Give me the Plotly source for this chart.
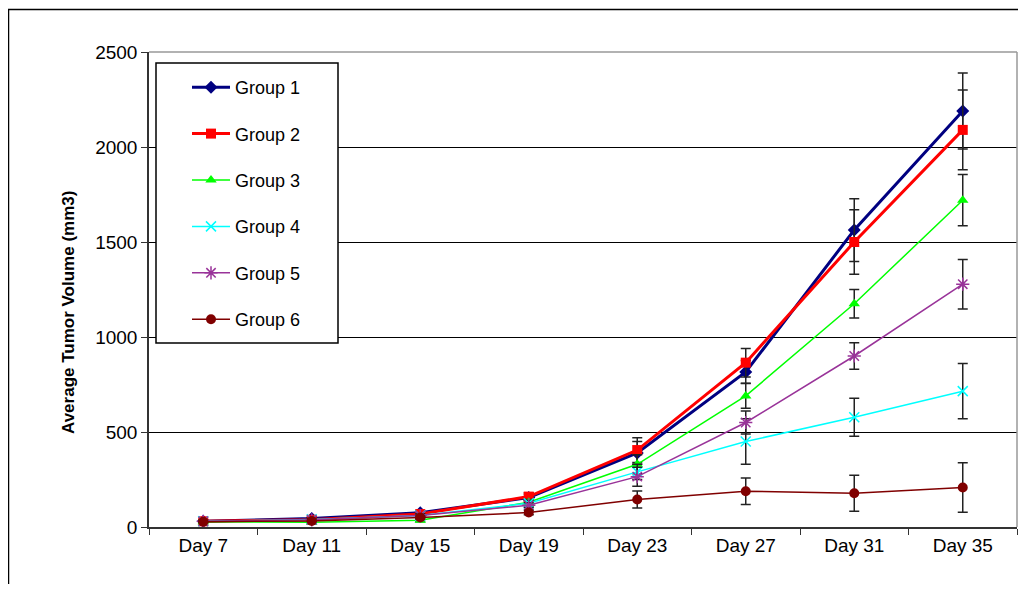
import plotly.graph_objects as go

days = ["Day 7", "Day 11", "Day 15", "Day 19", "Day 23", "Day 27", "Day 31", "Day 35"]
g1 = [30, 45, 75, 155, 390, 816, 1563, 2189]
g2 = [30, 38, 68, 160, 405, 865, 1500, 2090]
g3 = [28, 25, 35, 130, 330, 690, 1175, 1720]
g4 = [30, 40, 60, 125, 290, 450, 578, 715]
g5 = [30, 38, 60, 115, 265, 550, 900, 1278]
g6 = [28, 32, 50, 76, 145, 188, 178, 208]
e1 = [5, 6, 10, 18, 60, 60, 165, 200]
e2 = [5, 6, 10, 20, 65, 75, 170, 210]
e3 = [4, 5, 8, 15, 50, 65, 75, 135]
e4 = [4, 5, 8, 15, 40, 120, 100, 145]
e5 = [4, 5, 8, 12, 50, 60, 70, 130]
e6 = [4, 5, 8, 12, 45, 70, 95, 130]
names = ["Group 1", "Group 2", "Group 3", "Group 4", "Group 5", "Group 6"]

series = [
    (g1, e1, "#000080", "diamond", 10, 3),
    (g2, e2, "#FF0000", "square", 10, 3),
    (g3, e3, "#00FF00", "triangle-up", 10, 1.5),
    (g4, e4, "#00FFFF", "x-thin-open", 10, 1.5),
    (g5, e5, "#993399", "asterisk-open", 11, 1.5),
    (g6, e6, "#800000", "circle", 10, 1.5),
]

fig = go.Figure()
for name, (vals, errs, col, sym, msize, lw) in zip(names, series):
    fig.add_trace(go.Scatter(
        x=days, y=vals, name=name, mode="lines+markers",
        legendgroup=name,
        line=dict(color=col, width=lw),
        marker=dict(color=col, symbol=sym, size=msize,
                    line=dict(color=col, width=1.5 if "open" in sym else 0)),
        error_y=dict(type="data", array=errs, visible=True,
                     color="#222222", thickness=1.5, width=5),
    ))

OFF = 8  # page body margin
W, H = 1026 - 2 * OFF, 592 - 2 * OFF
# screen-space plot area
SL, SR, ST, SB = 149, 1017, 52, 527
L = SL - OFF
T = ST - OFF
R = W - (SR - OFF)
B = H - (SB - OFF)
pw, ph = W - L - R, H - T - B

def px_x(x):
    return (x - OFF - L) / pw

def px_y(y):
    return (H - B - (y - OFF)) / ph

font = "Liberation Sans, Arial, sans-serif"
fig.update_layout(
    width=W, height=H,
    margin=dict(l=L, r=R, t=T, b=B, pad=0),
    paper_bgcolor="white", plot_bgcolor="white",
    font=dict(family=font, size=19, color="black"),
    showlegend=True,
    legend=dict(
        x=px_x(187), y=px_y(69), xanchor="left", yanchor="top",
        bgcolor="rgba(0,0,0,0)", borderwidth=0,
        font=dict(family=font, size=18, color="black"),
        tracegroupgap=20, traceorder="grouped", itemwidth=38,
    ),
    xaxis=dict(
        type="category", range=[-0.5, 7.5],
        showline=True, linecolor="#333333", linewidth=1.5,
        ticks="outside", tickson="boundaries", ticklen=6, tickcolor="#333333",
        showgrid=False, zeroline=False,
        tickfont=dict(family=font, size=19, color="black"),
    ),
    yaxis=dict(
        range=[0, 2500], dtick=500, tick0=0,
        showline=True, linecolor="#333333", linewidth=1.5,
        ticks="outside", ticklen=6, tickcolor="#333333",
        showgrid=True, gridcolor="black", gridwidth=1.3,
        zeroline=False,
        tickfont=dict(family=font, size=19, color="black"),
    ),
    shapes=[
        dict(type="rect", xref="paper", yref="paper",
             x0=px_x(8.5), x1=px_x(1060), y0=px_y(640), y1=px_y(9.5),
             line=dict(color="black", width=1.5), layer="below"),
        dict(type="line", xref="paper", yref="paper",
             x0=0, x1=1, y0=1, y1=1, line=dict(color="#999999", width=1.5)),
        dict(type="line", xref="paper", yref="paper",
             x0=1, x1=1, y0=0, y1=1, line=dict(color="#999999", width=1.5)),
        dict(type="rect", xref="paper", yref="paper",
             x0=px_x(156), x1=px_x(338), y0=px_y(343), y1=px_y(63),
             line=dict(color="black", width=1.5), fillcolor="white", layer="above"),
    ],
    annotations=[
        dict(text="<b>Average Tumor Volume (mm3)</b>", textangle=-90,
             xref="paper", yref="paper", x=px_x(68), y=px_y(313),
             xanchor="center", yanchor="middle", showarrow=False,
             font=dict(family=font, size=17, color="black")),
    ],
)

fig.write_html("out.html")
